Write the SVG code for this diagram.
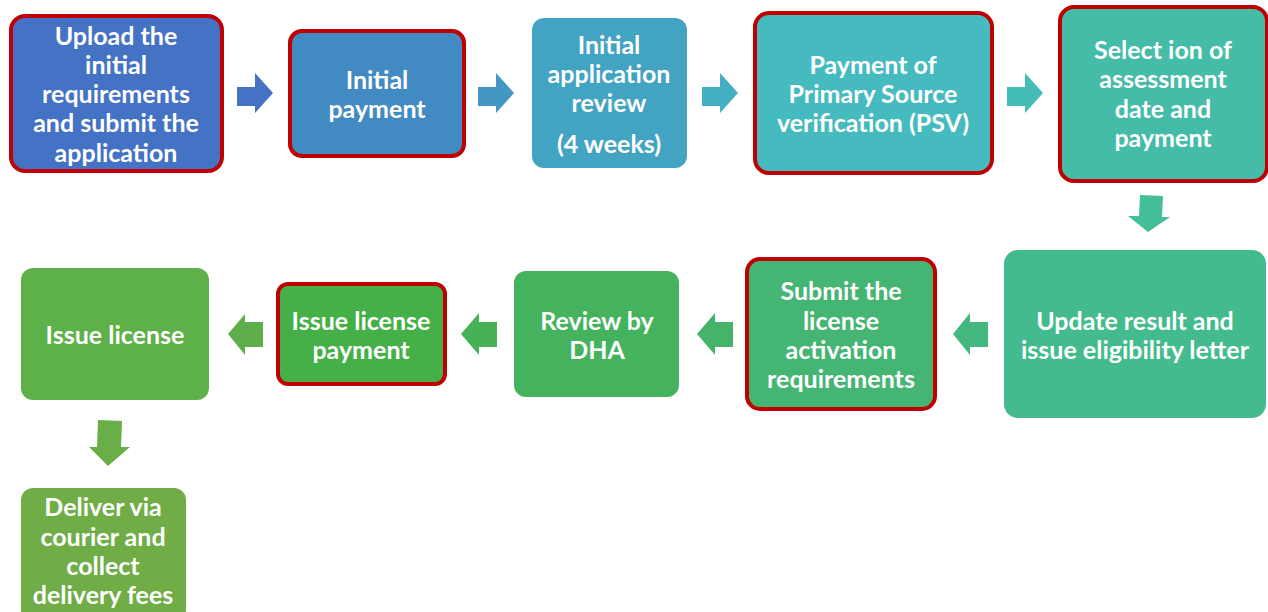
<svg xmlns="http://www.w3.org/2000/svg" width="1268" height="612" viewBox="0 0 1268 612">
<style>
.t{font-family:Lato,"Open Sans","Liberation Sans",sans-serif;font-weight:bold;font-size:25px;fill:#fff;text-anchor:middle;dominant-baseline:central}
.r{stroke:#C00000;stroke-width:4}
</style>
<rect width="1268" height="612" fill="#fff"/>
<g id="connectors">
<path d="M237,87H255V73L273,93L255,113V106H237Z" fill="#4472C4"/>
<path d="M478,87H496V73L514,93L496,113V106H478Z" fill="#4397C4"/>
<path d="M702,87H720V73L738,93L720,113V106H702Z" fill="#43AFC3"/>
<path d="M1007,87H1025V73L1043,93L1025,113V106H1007Z" fill="#44BDB8"/>
<path d="M1140,195L1163,196L1162,217L1170,217L1148,232L1128,216L1139,216Z" fill="#45BE9A"/>
<path d="M988,322H970V313L953,334L970,355V347H988Z" fill="#44B77F"/>
<path d="M733,322H715V313L697,334L715,355V347H733Z" fill="#45B46A"/>
<path d="M497,322H479V313L461,334L479,355V347H497Z" fill="#46B255"/>
<path d="M263,322H245V314L228,334L245,355V347H263Z" fill="#5EAF4B"/>
<path d="M98,420L122,421L121,447L130,447L108,466L89,447L97,447Z" fill="#6AAE47"/>
</g>
<g id="n1"><rect class="r" x="11" y="16" width="211" height="155" rx="14" fill="#4472C4"/>
<text class="t" x="116" y="35">Upload the</text><text class="t" x="116" y="64">initial</text><text class="t" x="116" y="93">requirements</text><text class="t" x="116" y="122">and submit the</text><text class="t" x="116" y="152">application</text></g>
<g id="n2"><rect class="r" x="290" y="31" width="174" height="125" rx="12" fill="#428AC2"/>
<text class="t" x="377" y="79">Initial</text><text class="t" x="377" y="108">payment</text></g>
<g id="n3"><rect x="532" y="18" width="155" height="150" rx="12" fill="#43A3C3"/>
<text class="t" x="609" y="44">Initial</text><text class="t" x="609" y="73">application</text><text class="t" x="609" y="102">review</text><text class="t" x="609" y="143">(4 weeks)</text></g>
<g id="n4"><rect class="r" x="755" y="13" width="237" height="160" rx="14" fill="#45BBC0"/>
<text class="t" x="873" y="64">Payment of</text><text class="t" x="873" y="93">Primary Source</text><text class="t" x="873" y="122">verification (PSV)</text></g>
<g id="n5"><rect class="r" x="1060" y="7" width="207" height="174" rx="14" fill="#45BCA8"/>
<text class="t" x="1163" y="49">Select ion of</text><text class="t" x="1163" y="78">assessment</text><text class="t" x="1163" y="108">date and</text><text class="t" x="1163" y="137">payment</text></g>
<g id="n6"><rect x="1004" y="250" width="262" height="168" rx="14" fill="#43BB8F"/>
<text class="t" x="1135" y="320">Update result and</text><text class="t" x="1135" y="349">issue eligibility letter</text></g>
<g id="n7"><rect class="r" x="747" y="259" width="188" height="150" rx="13" fill="#45B574"/>
<text class="t" x="841" y="290">Submit the</text><text class="t" x="841" y="320">license</text><text class="t" x="841" y="349">activation</text><text class="t" x="841" y="378">requirements</text></g>
<g id="n8"><rect x="514" y="271" width="165" height="126" rx="12" fill="#45B35E"/>
<text class="t" x="597" y="320">Review by</text><text class="t" x="597" y="349">DHA</text></g>
<g id="n9"><rect class="r" x="278" y="284" width="167" height="100" rx="10" fill="#45B048"/>
<text class="t" x="361" y="320">Issue license</text><text class="t" x="361" y="349">payment</text></g>
<g id="n10"><rect x="21" y="268" width="188" height="132" rx="12" fill="#5EB048"/>
<text class="t" x="115" y="334">Issue license</text></g>
<g id="n11"><rect x="21" y="488" width="165" height="134" rx="12" fill="#70AD47"/>
<text class="t" x="103" y="506">Deliver via</text><text class="t" x="103" y="536">courier and</text><text class="t" x="103" y="565">collect</text><text class="t" x="103" y="594">delivery fees</text></g>
</svg>
